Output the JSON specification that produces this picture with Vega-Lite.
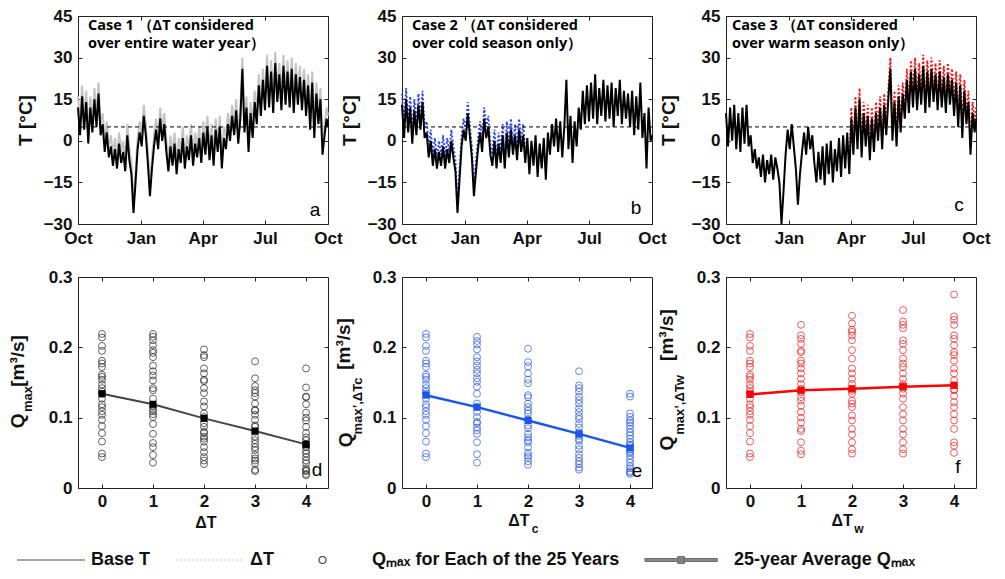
{
"$schema":"https://vega.github.io/schema/vega-lite/v6.json",
"background":"white",
"padding":{"left":8,"top":6,"right":10,"bottom":10},
"config":{
 "font":"Liberation Sans",
 "view":{"stroke":"#222","strokeWidth":1},
 "axis":{"grid":false,"domain":false,"tickSize":-4,"tickColor":"#222","tickWidth":1,"labelFont":"Liberation Sans","labelFontSize":17,"labelFontWeight":"bold","labelColor":"#111","titleFont":"Liberation Sans","titleFontSize":19,"titleFontWeight":"bold","titleColor":"#111","labelPadding":10,"labelFlush":false}
},
"datasets":{
"temp":[
{"day":0,"a":12,"b":13,"c":10,"ag":16,"bb":17},
{"day":3,"a":2,"b":1,"c":-2,"ag":6,"bb":5},
{"day":6,"a":16,"b":15,"c":12,"ag":20,"bb":19},
{"day":9,"a":4,"b":3,"c":0,"ag":8,"bb":7},
{"day":12,"a":14,"b":12,"c":13,"ag":18,"bb":16},
{"day":15,"a":-1,"b":-1,"c":-3,"ag":3,"bb":3},
{"day":18,"a":12,"b":11,"c":10,"ag":16,"bb":15},
{"day":21,"a":3,"b":2,"c":-4,"ag":7,"bb":6},
{"day":24,"a":15,"b":13,"c":12,"ag":19,"bb":17},
{"day":27,"a":5,"b":4,"c":-1,"ag":9,"bb":8},
{"day":30,"a":17,"b":14,"c":13,"ag":21,"bb":18},
{"day":33,"a":2,"b":1,"c":-2,"ag":6,"bb":5},
{"day":36,"a":6,"b":3,"c":2,"ag":10,"bb":7},
{"day":39,"a":-4,"b":-6,"c":-8,"ag":0,"bb":-2},
{"day":42,"a":3,"b":0,"c":-3,"ag":7,"bb":4},
{"day":45,"a":-6,"b":-9,"c":-10,"ag":-2,"bb":-5},
{"day":48,"a":-2,"b":-3,"c":-6,"ag":2,"bb":1},
{"day":51,"a":-9,"b":-10,"c":-13,"ag":-5,"bb":-6},
{"day":54,"a":-3,"b":-4,"c":-5,"ag":1,"bb":0},
{"day":57,"a":-10,"b":-9,"c":-15,"ag":-6,"bb":-5},
{"day":60,"a":-1,"b":-2,"c":-7,"ag":3,"bb":2},
{"day":63,"a":-8,"b":-10,"c":-12,"ag":-4,"bb":-6},
{"day":66,"a":-4,"b":-3,"c":-5,"ag":0,"bb":1},
{"day":69,"a":-11,"b":-8,"c":-14,"ag":-7,"bb":-4},
{"day":72,"a":2,"b":0,"c":-6,"ag":6,"bb":4},
{"day":75,"a":-7,"b":-6,"c":-10,"ag":-3,"bb":-2},
{"day":78,"a":-12,"b":-11,"c":-15,"ag":-8,"bb":-7},
{"day":81,"a":-26,"b":-26,"c":-30,"ag":-22,"bb":-22},
{"day":84,"a":-15,"b":-14,"c":-18,"ag":-11,"bb":-10},
{"day":87,"a":-3,"b":-2,"c":-5,"ag":1,"bb":2},
{"day":90,"a":3,"b":4,"c":4,"ag":7,"bb":8},
{"day":93,"a":-2,"b":0,"c":-3,"ag":2,"bb":4},
{"day":96,"a":9,"b":10,"c":6,"ag":13,"bb":14},
{"day":99,"a":2,"b":2,"c":-2,"ag":6,"bb":6},
{"day":102,"a":-8,"b":-6,"c":-10,"ag":-4,"bb":-2},
{"day":105,"a":-20,"b":-20,"c":-23,"ag":-16,"bb":-16},
{"day":108,"a":-10,"b":-11,"c":-12,"ag":-6,"bb":-7},
{"day":111,"a":-2,"b":-3,"c":-4,"ag":2,"bb":1},
{"day":114,"a":4,"b":3,"c":3,"ag":8,"bb":7},
{"day":117,"a":-3,"b":-4,"c":-5,"ag":1,"bb":0},
{"day":120,"a":8,"b":8,"c":5,"ag":12,"bb":12},
{"day":123,"a":0,"b":1,"c":-3,"ag":4,"bb":5},
{"day":126,"a":6,"b":5,"c":2,"ag":10,"bb":9},
{"day":129,"a":-4,"b":-5,"c":-8,"ag":0,"bb":-1},
{"day":132,"a":-11,"b":-9,"c":-15,"ag":-7,"bb":-5},
{"day":135,"a":-2,"b":0,"c":-4,"ag":2,"bb":4},
{"day":138,"a":-9,"b":-10,"c":-14,"ag":-5,"bb":-6},
{"day":141,"a":-1,"b":-1,"c":-2,"ag":3,"bb":3},
{"day":144,"a":-12,"b":-8,"c":-16,"ag":-8,"bb":-4},
{"day":147,"a":-3,"b":2,"c":-1,"ag":1,"bb":6},
{"day":150,"a":-8,"b":-10,"c":-12,"ag":-4,"bb":-6},
{"day":153,"a":1,"b":3,"c":0,"ag":5,"bb":7},
{"day":156,"a":-10,"b":-6,"c":-15,"ag":-6,"bb":-2},
{"day":159,"a":-2,"b":4,"c":-3,"ag":2,"bb":8},
{"day":162,"a":-7,"b":-5,"c":-11,"ag":-3,"bb":-1},
{"day":165,"a":2,"b":2,"c":1,"ag":6,"bb":6},
{"day":168,"a":-9,"b":-7,"c":-13,"ag":-5,"bb":-3},
{"day":171,"a":-1,"b":4,"c":2,"ag":3,"bb":8},
{"day":174,"a":-6,"b":-4,"c":-10,"ag":-2,"bb":0},
{"day":177,"a":1,"b":2,"c":3,"ag":5,"bb":6},
{"day":180,"a":-8,"b":-8,"c":-12,"ag":-4,"bb":-4,"cr":-8},
{"day":183,"a":3,"b":1,"c":8,"ag":7,"cr":12},
{"day":186,"a":-5,"b":-12,"c":-5,"ag":-1,"cr":-1},
{"day":189,"a":5,"b":0,"c":12,"ag":9,"cr":16},
{"day":192,"a":-7,"b":-9,"c":-3,"ag":-3,"cr":1},
{"day":195,"a":2,"b":2,"c":15,"ag":6,"cr":19},
{"day":198,"a":-9,"b":-13,"c":-6,"ag":-5,"cr":-2},
{"day":201,"a":4,"b":-1,"c":10,"ag":8,"cr":14},
{"day":204,"a":-4,"b":-10,"c":-2,"ag":0,"cr":2},
{"day":207,"a":5,"b":1,"c":9,"ag":9,"cr":13},
{"day":210,"a":-10,"b":-14,"c":-7,"ag":-6,"cr":-3},
{"day":213,"a":1,"b":3,"c":8,"ag":5,"cr":12},
{"day":216,"a":-3,"b":-5,"c":-4,"ag":1,"cr":0},
{"day":219,"a":6,"b":6,"c":10,"ag":10,"cr":14},
{"day":222,"a":0,"b":-2,"c":0,"ag":4,"cr":4},
{"day":225,"a":9,"b":8,"c":12,"ag":13,"cr":16},
{"day":228,"a":2,"b":-4,"c":-3,"ag":6,"cr":1},
{"day":231,"a":11,"b":7,"c":13,"ag":15,"cr":17},
{"day":234,"a":-1,"b":-6,"c":2,"ag":3,"cr":6},
{"day":237,"a":8,"b":5,"c":15,"ag":12,"cr":19},
{"day":240,"a":26,"b":22,"c":26,"ag":30,"cr":30},
{"day":243,"a":3,"b":-3,"c":0,"ag":7,"cr":4},
{"day":246,"a":12,"b":9,"c":14,"ag":16,"cr":18},
{"day":249,"a":-4,"b":-8,"c":-2,"ag":0,"cr":2},
{"day":252,"a":10,"b":7,"c":16,"ag":14,"cr":20},
{"day":255,"a":1,"b":-2,"c":3,"ag":5,"cr":7},
{"day":258,"a":14,"b":12,"c":17,"ag":18,"cr":21},
{"day":261,"a":6,"b":4,"c":8,"ag":10,"cr":12},
{"day":264,"a":20,"b":18,"c":22,"ag":24,"cr":26},
{"day":267,"a":9,"b":6,"c":10,"ag":13,"cr":14},
{"day":270,"a":22,"b":20,"c":25,"ag":26,"cr":29},
{"day":273,"a":11,"b":7,"c":12,"ag":15,"cr":16},
{"day":276,"a":27,"b":21,"c":26,"ag":31,"cr":30},
{"day":279,"a":12,"b":8,"c":11,"ag":16,"cr":15},
{"day":282,"a":25,"b":24,"c":24,"ag":29,"cr":28},
{"day":285,"a":10,"b":6,"c":13,"ag":14,"cr":17},
{"day":288,"a":28,"b":19,"c":27,"ag":32,"cr":31},
{"day":291,"a":14,"b":9,"c":10,"ag":18,"cr":14},
{"day":294,"a":24,"b":22,"c":25,"ag":28,"cr":29},
{"day":297,"a":11,"b":7,"c":12,"ag":15,"cr":16},
{"day":300,"a":27,"b":20,"c":26,"ag":31,"cr":30},
{"day":303,"a":13,"b":8,"c":14,"ag":17,"cr":18},
{"day":306,"a":25,"b":21,"c":24,"ag":29,"cr":28},
{"day":309,"a":12,"b":5,"c":11,"ag":16,"cr":15},
{"day":312,"a":26,"b":19,"c":25,"ag":30,"cr":29},
{"day":315,"a":10,"b":9,"c":12,"ag":14,"cr":16},
{"day":318,"a":24,"b":22,"c":23,"ag":28,"cr":27},
{"day":321,"a":13,"b":6,"c":10,"ag":17,"cr":14},
{"day":324,"a":23,"b":18,"c":24,"ag":27,"cr":28},
{"day":327,"a":11,"b":8,"c":13,"ag":15,"cr":17},
{"day":330,"a":22,"b":17,"c":22,"ag":26,"cr":26},
{"day":333,"a":9,"b":5,"c":9,"ag":13,"cr":13},
{"day":336,"a":20,"b":18,"c":21,"ag":24,"cr":25},
{"day":339,"a":4,"b":2,"c":5,"ag":8,"cr":9},
{"day":342,"a":21,"b":16,"c":20,"ag":25,"cr":24},
{"day":345,"a":1,"b":4,"c":1,"ag":5,"cr":5},
{"day":348,"a":17,"b":21,"c":18,"ag":21,"cr":22},
{"day":351,"a":6,"b":1,"c":6,"ag":10,"cr":10},
{"day":354,"a":15,"b":10,"c":14,"ag":19,"cr":18},
{"day":357,"a":-5,"b":-10,"c":-5,"ag":-1,"cr":-1},
{"day":360,"a":2,"b":12,"c":10,"ag":6,"cr":14},
{"day":363,"a":8,"b":0,"c":3,"ag":12,"cr":7},
{"day":365,"a":5,"b":2,"c":8,"ag":9,"cr":12}
],
"qd":[
{"dt":0,"q":0.219},{"dt":0,"q":0.214},{"dt":0,"q":0.202},{"dt":0,"q":0.195},{"dt":0,"q":0.181},{"dt":0,"q":0.177},{"dt":0,"q":0.172},{"dt":0,"q":0.161},{"dt":0,"q":0.158},{"dt":0,"q":0.154},{"dt":0,"q":0.147},{"dt":0,"q":0.142},{"dt":0,"q":0.137},{"dt":0,"q":0.134},{"dt":0,"q":0.127},{"dt":0,"q":0.119},{"dt":0,"q":0.115},{"dt":0,"q":0.109},{"dt":0,"q":0.104},{"dt":0,"q":0.097},{"dt":0,"q":0.088},{"dt":0,"q":0.078},{"dt":0,"q":0.066},{"dt":0,"q":0.049},{"dt":0,"q":0.044},
{"dt":1,"q":0.219},{"dt":1,"q":0.215},{"dt":1,"q":0.210},{"dt":1,"q":0.203},{"dt":1,"q":0.196},{"dt":1,"q":0.192},{"dt":1,"q":0.186},{"dt":1,"q":0.174},{"dt":1,"q":0.166},{"dt":1,"q":0.160},{"dt":1,"q":0.153},{"dt":1,"q":0.142},{"dt":1,"q":0.139},{"dt":1,"q":0.127},{"dt":1,"q":0.116},{"dt":1,"q":0.112},{"dt":1,"q":0.109},{"dt":1,"q":0.105},{"dt":1,"q":0.101},{"dt":1,"q":0.091},{"dt":1,"q":0.077},{"dt":1,"q":0.064},{"dt":1,"q":0.058},{"dt":1,"q":0.047},{"dt":1,"q":0.036},
{"dt":2,"q":0.197},{"dt":2,"q":0.189},{"dt":2,"q":0.186},{"dt":2,"q":0.170},{"dt":2,"q":0.163},{"dt":2,"q":0.154},{"dt":2,"q":0.152},{"dt":2,"q":0.142},{"dt":2,"q":0.135},{"dt":2,"q":0.123},{"dt":2,"q":0.116},{"dt":2,"q":0.106},{"dt":2,"q":0.101},{"dt":2,"q":0.092},{"dt":2,"q":0.087},{"dt":2,"q":0.080},{"dt":2,"q":0.078},{"dt":2,"q":0.073},{"dt":2,"q":0.070},{"dt":2,"q":0.066},{"dt":2,"q":0.058},{"dt":2,"q":0.051},{"dt":2,"q":0.044},{"dt":2,"q":0.039},{"dt":2,"q":0.034},
{"dt":3,"q":0.180},{"dt":3,"q":0.156},{"dt":3,"q":0.145},{"dt":3,"q":0.139},{"dt":3,"q":0.135},{"dt":3,"q":0.130},{"dt":3,"q":0.120},{"dt":3,"q":0.111},{"dt":3,"q":0.110},{"dt":3,"q":0.104},{"dt":3,"q":0.097},{"dt":3,"q":0.089},{"dt":3,"q":0.087},{"dt":3,"q":0.080},{"dt":3,"q":0.073},{"dt":3,"q":0.068},{"dt":3,"q":0.063},{"dt":3,"q":0.058},{"dt":3,"q":0.054},{"dt":3,"q":0.047},{"dt":3,"q":0.042},{"dt":3,"q":0.039},{"dt":3,"q":0.035},{"dt":3,"q":0.026},{"dt":3,"q":0.024},
{"dt":4,"q":0.170},{"dt":4,"q":0.143},{"dt":4,"q":0.130},{"dt":4,"q":0.129},{"dt":4,"q":0.119},{"dt":4,"q":0.107},{"dt":4,"q":0.100},{"dt":4,"q":0.096},{"dt":4,"q":0.087},{"dt":4,"q":0.078},{"dt":4,"q":0.072},{"dt":4,"q":0.068},{"dt":4,"q":0.063},{"dt":4,"q":0.060},{"dt":4,"q":0.058},{"dt":4,"q":0.053},{"dt":4,"q":0.049},{"dt":4,"q":0.044},{"dt":4,"q":0.039},{"dt":4,"q":0.035},{"dt":4,"q":0.028},{"dt":4,"q":0.025},{"dt":4,"q":0.024},{"dt":4,"q":0.020},{"dt":4,"q":0.018}
],
"qe":[
{"dt":0,"q":0.219},{"dt":0,"q":0.214},{"dt":0,"q":0.202},{"dt":0,"q":0.195},{"dt":0,"q":0.181},{"dt":0,"q":0.177},{"dt":0,"q":0.172},{"dt":0,"q":0.161},{"dt":0,"q":0.158},{"dt":0,"q":0.154},{"dt":0,"q":0.147},{"dt":0,"q":0.142},{"dt":0,"q":0.137},{"dt":0,"q":0.134},{"dt":0,"q":0.127},{"dt":0,"q":0.119},{"dt":0,"q":0.115},{"dt":0,"q":0.109},{"dt":0,"q":0.104},{"dt":0,"q":0.097},{"dt":0,"q":0.088},{"dt":0,"q":0.078},{"dt":0,"q":0.066},{"dt":0,"q":0.049},{"dt":0,"q":0.044},
{"dt":1,"q":0.215},{"dt":1,"q":0.209},{"dt":1,"q":0.204},{"dt":1,"q":0.197},{"dt":1,"q":0.186},{"dt":1,"q":0.180},{"dt":1,"q":0.174},{"dt":1,"q":0.168},{"dt":1,"q":0.163},{"dt":1,"q":0.156},{"dt":1,"q":0.151},{"dt":1,"q":0.144},{"dt":1,"q":0.134},{"dt":1,"q":0.120},{"dt":1,"q":0.115},{"dt":1,"q":0.108},{"dt":1,"q":0.101},{"dt":1,"q":0.094},{"dt":1,"q":0.092},{"dt":1,"q":0.086},{"dt":1,"q":0.082},{"dt":1,"q":0.077},{"dt":1,"q":0.065},{"dt":1,"q":0.048},{"dt":1,"q":0.036},
{"dt":2,"q":0.198},{"dt":2,"q":0.179},{"dt":2,"q":0.173},{"dt":2,"q":0.163},{"dt":2,"q":0.154},{"dt":2,"q":0.149},{"dt":2,"q":0.132},{"dt":2,"q":0.129},{"dt":2,"q":0.120},{"dt":2,"q":0.115},{"dt":2,"q":0.110},{"dt":2,"q":0.106},{"dt":2,"q":0.098},{"dt":2,"q":0.089},{"dt":2,"q":0.085},{"dt":2,"q":0.077},{"dt":2,"q":0.072},{"dt":2,"q":0.068},{"dt":2,"q":0.065},{"dt":2,"q":0.058},{"dt":2,"q":0.050},{"dt":2,"q":0.046},{"dt":2,"q":0.043},{"dt":2,"q":0.038},{"dt":2,"q":0.033},
{"dt":3,"q":0.166},{"dt":3,"q":0.146},{"dt":3,"q":0.142},{"dt":3,"q":0.137},{"dt":3,"q":0.130},{"dt":3,"q":0.125},{"dt":3,"q":0.120},{"dt":3,"q":0.113},{"dt":3,"q":0.108},{"dt":3,"q":0.102},{"dt":3,"q":0.098},{"dt":3,"q":0.091},{"dt":3,"q":0.086},{"dt":3,"q":0.079},{"dt":3,"q":0.074},{"dt":3,"q":0.070},{"dt":3,"q":0.067},{"dt":3,"q":0.060},{"dt":3,"q":0.055},{"dt":3,"q":0.048},{"dt":3,"q":0.043},{"dt":3,"q":0.038},{"dt":3,"q":0.034},{"dt":3,"q":0.029},{"dt":3,"q":0.026},
{"dt":4,"q":0.134},{"dt":4,"q":0.130},{"dt":4,"q":0.106},{"dt":4,"q":0.101},{"dt":4,"q":0.096},{"dt":4,"q":0.093},{"dt":4,"q":0.089},{"dt":4,"q":0.084},{"dt":4,"q":0.079},{"dt":4,"q":0.075},{"dt":4,"q":0.070},{"dt":4,"q":0.065},{"dt":4,"q":0.062},{"dt":4,"q":0.060},{"dt":4,"q":0.055},{"dt":4,"q":0.052},{"dt":4,"q":0.050},{"dt":4,"q":0.046},{"dt":4,"q":0.041},{"dt":4,"q":0.036},{"dt":4,"q":0.031},{"dt":4,"q":0.028},{"dt":4,"q":0.024},{"dt":4,"q":0.022},{"dt":4,"q":0.020}
],
"qf":[
{"dt":0,"q":0.219},{"dt":0,"q":0.214},{"dt":0,"q":0.202},{"dt":0,"q":0.195},{"dt":0,"q":0.181},{"dt":0,"q":0.177},{"dt":0,"q":0.172},{"dt":0,"q":0.161},{"dt":0,"q":0.158},{"dt":0,"q":0.154},{"dt":0,"q":0.147},{"dt":0,"q":0.142},{"dt":0,"q":0.137},{"dt":0,"q":0.134},{"dt":0,"q":0.127},{"dt":0,"q":0.119},{"dt":0,"q":0.115},{"dt":0,"q":0.109},{"dt":0,"q":0.104},{"dt":0,"q":0.097},{"dt":0,"q":0.088},{"dt":0,"q":0.078},{"dt":0,"q":0.066},{"dt":0,"q":0.049},{"dt":0,"q":0.044},
{"dt":1,"q":0.232},{"dt":1,"q":0.217},{"dt":1,"q":0.212},{"dt":1,"q":0.205},{"dt":1,"q":0.195},{"dt":1,"q":0.193},{"dt":1,"q":0.181},{"dt":1,"q":0.177},{"dt":1,"q":0.170},{"dt":1,"q":0.163},{"dt":1,"q":0.155},{"dt":1,"q":0.148},{"dt":1,"q":0.141},{"dt":1,"q":0.136},{"dt":1,"q":0.129},{"dt":1,"q":0.124},{"dt":1,"q":0.117},{"dt":1,"q":0.108},{"dt":1,"q":0.100},{"dt":1,"q":0.093},{"dt":1,"q":0.084},{"dt":1,"q":0.081},{"dt":1,"q":0.065},{"dt":1,"q":0.053},{"dt":1,"q":0.048},
{"dt":2,"q":0.245},{"dt":2,"q":0.234},{"dt":2,"q":0.225},{"dt":2,"q":0.222},{"dt":2,"q":0.217},{"dt":2,"q":0.210},{"dt":2,"q":0.196},{"dt":2,"q":0.184},{"dt":2,"q":0.170},{"dt":2,"q":0.163},{"dt":2,"q":0.155},{"dt":2,"q":0.148},{"dt":2,"q":0.141},{"dt":2,"q":0.138},{"dt":2,"q":0.134},{"dt":2,"q":0.124},{"dt":2,"q":0.120},{"dt":2,"q":0.115},{"dt":2,"q":0.103},{"dt":2,"q":0.096},{"dt":2,"q":0.084},{"dt":2,"q":0.076},{"dt":2,"q":0.065},{"dt":2,"q":0.055},{"dt":2,"q":0.049},
{"dt":3,"q":0.253},{"dt":3,"q":0.237},{"dt":3,"q":0.232},{"dt":3,"q":0.227},{"dt":3,"q":0.210},{"dt":3,"q":0.205},{"dt":3,"q":0.196},{"dt":3,"q":0.184},{"dt":3,"q":0.177},{"dt":3,"q":0.172},{"dt":3,"q":0.163},{"dt":3,"q":0.155},{"dt":3,"q":0.148},{"dt":3,"q":0.145},{"dt":3,"q":0.141},{"dt":3,"q":0.134},{"dt":3,"q":0.127},{"dt":3,"q":0.115},{"dt":3,"q":0.105},{"dt":3,"q":0.096},{"dt":3,"q":0.084},{"dt":3,"q":0.076},{"dt":3,"q":0.065},{"dt":3,"q":0.055},{"dt":3,"q":0.049},
{"dt":4,"q":0.275},{"dt":4,"q":0.244},{"dt":4,"q":0.239},{"dt":4,"q":0.232},{"dt":4,"q":0.217},{"dt":4,"q":0.212},{"dt":4,"q":0.203},{"dt":4,"q":0.193},{"dt":4,"q":0.189},{"dt":4,"q":0.181},{"dt":4,"q":0.170},{"dt":4,"q":0.163},{"dt":4,"q":0.153},{"dt":4,"q":0.146},{"dt":4,"q":0.140},{"dt":4,"q":0.139},{"dt":4,"q":0.131},{"dt":4,"q":0.122},{"dt":4,"q":0.115},{"dt":4,"q":0.105},{"dt":4,"q":0.096},{"dt":4,"q":0.084},{"dt":4,"q":0.065},{"dt":4,"q":0.060},{"dt":4,"q":0.050}
],
"md":[{"dt":0,"q":0.134},{"dt":1,"q":0.119},{"dt":2,"q":0.099},{"dt":3,"q":0.081},{"dt":4,"q":0.062}],
"me":[{"dt":0,"q":0.132},{"dt":1,"q":0.115},{"dt":2,"q":0.096},{"dt":3,"q":0.077},{"dt":4,"q":0.057}],
"mf":[{"dt":0,"q":0.133},{"dt":1,"q":0.139},{"dt":2,"q":0.141},{"dt":3,"q":0.144},{"dt":4,"q":0.146}]
},
"columns":3,
"bounds":"flush",
"align":"each",
"spacing":{"row":53,"column":74},
"concat":[
{
 "width":250,"height":208,
 "layer":[
  {"data":{"name":"temp"},"mark":{"type":"line","color":"#c4c4c4","strokeWidth":2},
   "encoding":{
    "x":{"field":"day","type":"quantitative","scale":{"domain":[0,365],"nice":false,"zero":false},"axis":{"orient":"bottom","values":[0,92,182,273,365],"labelExpr":"datum.value == 0 || datum.value == 365 ? 'Oct' : datum.value == 92 ? 'Jan' : datum.value == 182 ? 'Apr' : 'Jul'","title":null}},
    "y":{"field":"ag","type":"quantitative","scale":{"domain":[-30,45],"nice":false,"zero":false},"axis":{"orient":"left","values":[-30,-15,0,15,30,45],"title":"T [°C]","titlePadding":8}}}},
  {"data":{"name":"temp"},"mark":{"type":"line","color":"#000","strokeWidth":2},
   "encoding":{
    "x":{"field":"day","type":"quantitative","scale":{"domain":[0,365],"nice":false,"zero":false},"axis":{"orient":"top","values":[0,92,182,273,365],"labels":false,"title":null}},
    "y":{"field":"a","type":"quantitative","scale":{"domain":[-30,45],"nice":false,"zero":false},"axis":{"orient":"right","values":[-30,-15,0,15,30,45],"labels":false,"title":null}}}},
  {"data":{"values":[{}]},"mark":{"type":"rule","color":"#000","strokeWidth":1,"strokeDash":[4,3]},"encoding":{"y":{"datum":5,"axis":null}}},
  {"data":{"values":[{}]},"mark":{"type":"text","align":"left","baseline":"top","font":"Open Sans","fontSize":14.5,"fontWeight":"bold","lineHeight":18},
   "encoding":{"x":{"datum":14.6,"axis":null},"y":{"datum":44,"axis":null},"text":{"value":["Case 1 （ΔT considered","over entire water year）"]}}},
  {"data":{"values":[{}]},"mark":{"type":"text","fontSize":19},"encoding":{"x":{"datum":346,"axis":null},"y":{"datum":-25,"axis":null},"text":{"value":"a"}}}
 ],
 "resolve":{"axis":{"x":"independent","y":"independent"}}
},
{
 "width":250,"height":208,
 "layer":[
  {"data":{"name":"temp"},"mark":{"type":"line","color":"#1f3cff","strokeWidth":1.8,"strokeDash":[2,2]},
   "encoding":{
    "x":{"field":"day","type":"quantitative","scale":{"domain":[0,365],"nice":false,"zero":false},"axis":{"orient":"bottom","values":[0,92,182,273,365],"labelExpr":"datum.value == 0 || datum.value == 365 ? 'Oct' : datum.value == 92 ? 'Jan' : datum.value == 182 ? 'Apr' : 'Jul'","title":null}},
    "y":{"field":"bb","type":"quantitative","scale":{"domain":[-30,45],"nice":false,"zero":false},"axis":{"orient":"left","values":[-30,-15,0,15,30,45],"title":"T [°C]","titlePadding":8}}}},
  {"data":{"name":"temp"},"mark":{"type":"line","color":"#000","strokeWidth":2},
   "encoding":{
    "x":{"field":"day","type":"quantitative","scale":{"domain":[0,365],"nice":false,"zero":false},"axis":{"orient":"top","values":[0,92,182,273,365],"labels":false,"title":null}},
    "y":{"field":"b","type":"quantitative","scale":{"domain":[-30,45],"nice":false,"zero":false},"axis":{"orient":"right","values":[-30,-15,0,15,30,45],"labels":false,"title":null}}}},
  {"data":{"values":[{}]},"mark":{"type":"rule","color":"#000","strokeWidth":1,"strokeDash":[4,3]},"encoding":{"y":{"datum":5,"axis":null}}},
  {"data":{"values":[{}]},"mark":{"type":"text","align":"left","baseline":"top","font":"Open Sans","fontSize":14.5,"fontWeight":"bold","lineHeight":18},
   "encoding":{"x":{"datum":14.6,"axis":null},"y":{"datum":44,"axis":null},"text":{"value":["Case 2 （ΔT considered","over cold season only）"]}}},
  {"data":{"values":[{}]},"mark":{"type":"text","fontSize":19},"encoding":{"x":{"datum":341.6,"axis":null},"y":{"datum":-24.2,"axis":null},"text":{"value":"b"}}}
 ],
 "resolve":{"axis":{"x":"independent","y":"independent"}}
},
{
 "width":250,"height":208,
 "layer":[
  {"data":{"name":"temp"},"mark":{"type":"line","color":"#ff1010","strokeWidth":1.8,"strokeDash":[2,2]},
   "encoding":{
    "x":{"field":"day","type":"quantitative","scale":{"domain":[0,365],"nice":false,"zero":false},"axis":{"orient":"bottom","values":[0,92,182,273,365],"labelExpr":"datum.value == 0 || datum.value == 365 ? 'Oct' : datum.value == 92 ? 'Jan' : datum.value == 182 ? 'Apr' : 'Jul'","title":null}},
    "y":{"field":"cr","type":"quantitative","scale":{"domain":[-30,45],"nice":false,"zero":false},"axis":{"orient":"left","values":[-30,-15,0,15,30,45],"title":"T [°C]","titlePadding":13}}}},
  {"data":{"name":"temp"},"mark":{"type":"line","color":"#000","strokeWidth":2},
   "encoding":{
    "x":{"field":"day","type":"quantitative","scale":{"domain":[0,365],"nice":false,"zero":false},"axis":{"orient":"top","values":[0,92,182,273,365],"labels":false,"title":null}},
    "y":{"field":"c","type":"quantitative","scale":{"domain":[-30,45],"nice":false,"zero":false},"axis":{"orient":"right","values":[-30,-15,0,15,30,45],"labels":false,"title":null}}}},
  {"data":{"values":[{}]},"mark":{"type":"rule","color":"#000","strokeWidth":1,"strokeDash":[4,3]},"encoding":{"y":{"datum":5,"axis":null}}},
  {"data":{"values":[{}]},"mark":{"type":"text","align":"left","baseline":"top","font":"Open Sans","fontSize":14.5,"fontWeight":"bold","lineHeight":18},
   "encoding":{"x":{"datum":8.8,"axis":null},"y":{"datum":44,"axis":null},"text":{"value":["Case 3 （ΔT considered","over warm season only）"]}}},
  {"data":{"values":[{}]},"mark":{"type":"text","fontSize":19},"encoding":{"x":{"datum":340,"axis":null},"y":{"datum":-23.2,"axis":null},"text":{"value":"c"}}}
 ],
 "resolve":{"axis":{"x":"independent","y":"independent"}}
},
{
 "width":250,"height":211,
 "layer":[
  {"data":{"name":"qd"},"mark":{"type":"point","shape":"circle","filled":false,"size":48,"color":"#222","strokeWidth":1},
   "encoding":{
    "x":{"field":"dt","type":"quantitative","scale":{"domain":[-0.47,4.43],"nice":false,"zero":false},"axis":{"orient":"bottom","values":[0,1,2,3,4],"title":null,"labelPadding":9}},
    "y":{"field":"q","type":"quantitative","scale":{"domain":[0,0.3],"nice":false,"zero":false},"axis":{"orient":"left","values":[0,0.1,0.2,0.3],"format":".1~f","title":null}}}},
  {"data":{"name":"md"},"mark":{"type":"line","color":"#444","strokeWidth":2,"point":{"filled":true,"shape":"square","size":50,"color":"#000"}},
   "encoding":{
    "x":{"field":"dt","type":"quantitative","scale":{"domain":[-0.47,4.43],"nice":false,"zero":false},"axis":{"orient":"top","values":[0,1,2,3,4],"labels":false,"title":null}},
    "y":{"field":"q","type":"quantitative","scale":{"domain":[0,0.3],"nice":false,"zero":false},"axis":{"orient":"right","values":[0.1,0.2],"labels":false,"title":null}}}},
  {"data":{"values":[{}]},"mark":{"type":"text","angle":270,"fontSize":19,"fontWeight":"bold","color":"#111"},"encoding":{"x":{"datum":-1.646,"axis":null},"y":{"datum":0.0953,"axis":null},"text":{"value":"Q"}}},
  {"data":{"values":[{}]},"mark":{"type":"text","angle":270,"fontSize":13,"fontWeight":"bold","color":"#111"},"encoding":{"x":{"datum":-1.45,"axis":null},"y":{"datum":0.1265,"axis":null},"text":{"value":"max"}}},
  {"data":{"values":[{}]},"mark":{"type":"text","angle":270,"fontSize":19,"fontWeight":"bold","color":"#111"},"encoding":{"x":{"datum":-1.646,"axis":null},"y":{"datum":0.1806,"axis":null},"text":{"value":"[m³/s]"}}},
  {"data":{"values":[{}]},"mark":{"type":"text","fontSize":16,"fontWeight":"bold","color":"#111"},"encoding":{"x":{"datum":2.039,"axis":null},"y":{"datum":-0.0498,"axis":null},"text":{"value":"ΔT"}}},
  {"data":{"values":[{}]},"mark":{"type":"text","fontSize":19},"encoding":{"x":{"datum":4.214,"axis":null},"y":{"datum":0.0256,"axis":null},"text":{"value":"d"}}}
 ],
 "resolve":{"axis":{"x":"independent","y":"independent"}}
},
{
 "width":250,"height":211,
 "layer":[
  {"data":{"name":"qe"},"mark":{"type":"point","shape":"circle","filled":false,"size":48,"color":"#2255ee","strokeWidth":1},
   "encoding":{
    "x":{"field":"dt","type":"quantitative","scale":{"domain":[-0.47,4.43],"nice":false,"zero":false},"axis":{"orient":"bottom","values":[0,1,2,3,4],"title":null,"labelPadding":9}},
    "y":{"field":"q","type":"quantitative","scale":{"domain":[0,0.3],"nice":false,"zero":false},"axis":{"orient":"left","values":[0,0.1,0.2,0.3],"format":".1~f","title":null}}}},
  {"data":{"name":"me"},"mark":{"type":"line","color":"#1a55ee","strokeWidth":2.5,"point":{"filled":true,"shape":"square","size":50,"color":"#1a55ee"}},
   "encoding":{
    "x":{"field":"dt","type":"quantitative","scale":{"domain":[-0.47,4.43],"nice":false,"zero":false},"axis":{"orient":"top","values":[0,1,2,3,4],"labels":false,"title":null}},
    "y":{"field":"q","type":"quantitative","scale":{"domain":[0,0.3],"nice":false,"zero":false},"axis":{"orient":"right","values":[0.1,0.2],"labels":false,"title":null}}}},
  {"data":{"values":[{}]},"mark":{"type":"text","angle":270,"fontSize":19,"fontWeight":"bold","color":"#111"},"encoding":{"x":{"datum":-1.568,"axis":null},"y":{"datum":0.0683,"axis":null},"text":{"value":"Q"}}},
  {"data":{"values":[{}]},"mark":{"type":"text","angle":270,"fontSize":13,"fontWeight":"bold","color":"#111"},"encoding":{"x":{"datum":-1.332,"axis":null},"y":{"datum":0.1166,"axis":null},"text":{"value":"max’,ΔTc"}}},
  {"data":{"values":[{}]},"mark":{"type":"text","angle":270,"fontSize":19,"fontWeight":"bold","color":"#111"},"encoding":{"x":{"datum":-1.607,"axis":null},"y":{"datum":0.2048,"axis":null},"text":{"value":"[m³/s]"}}},
  {"data":{"values":[{}]},"mark":{"type":"text","fontSize":16,"fontWeight":"bold","color":"#111"},"encoding":{"x":{"datum":1.823,"axis":null},"y":{"datum":-0.0469,"axis":null},"text":{"value":"ΔT"}}},
  {"data":{"values":[{}]},"mark":{"type":"text","fontSize":12,"fontWeight":"bold","color":"#111"},"encoding":{"x":{"datum":2.137,"axis":null},"y":{"datum":-0.0583,"axis":null},"text":{"value":"c"}}},
  {"data":{"values":[{}]},"mark":{"type":"text","fontSize":19},"encoding":{"x":{"datum":4.136,"axis":null},"y":{"datum":0.0242,"axis":null},"text":{"value":"e"}}}
 ],
 "resolve":{"axis":{"x":"independent","y":"independent"}}
},
{
 "width":250,"height":211,
 "layer":[
  {"data":{"name":"qf"},"mark":{"type":"point","shape":"circle","filled":false,"size":48,"color":"#f01818","strokeWidth":1},
   "encoding":{
    "x":{"field":"dt","type":"quantitative","scale":{"domain":[-0.47,4.43],"nice":false,"zero":false},"axis":{"orient":"bottom","values":[0,1,2,3,4],"title":null,"labelPadding":9}},
    "y":{"field":"q","type":"quantitative","scale":{"domain":[0,0.3],"nice":false,"zero":false},"axis":{"orient":"left","values":[0,0.1,0.2,0.3],"format":".1~f","title":null}}}},
  {"data":{"name":"mf"},"mark":{"type":"line","color":"#ff0000","strokeWidth":2.5,"point":{"filled":true,"shape":"square","size":50,"color":"#ff0000"}},
   "encoding":{
    "x":{"field":"dt","type":"quantitative","scale":{"domain":[-0.47,4.43],"nice":false,"zero":false},"axis":{"orient":"top","values":[0,1,2,3,4],"labels":false,"title":null}},
    "y":{"field":"q","type":"quantitative","scale":{"domain":[0,0.3],"nice":false,"zero":false},"axis":{"orient":"right","values":[0.1,0.2],"labels":false,"title":null}}}},
  {"data":{"values":[{}]},"mark":{"type":"text","angle":270,"fontSize":19,"fontWeight":"bold","color":"#111"},"encoding":{"x":{"datum":-1.626,"axis":null},"y":{"datum":0.064,"axis":null},"text":{"value":"Q"}}},
  {"data":{"values":[{}]},"mark":{"type":"text","angle":270,"fontSize":13,"fontWeight":"bold","color":"#111"},"encoding":{"x":{"datum":-1.372,"axis":null},"y":{"datum":0.118,"axis":null},"text":{"value":"max’,ΔTw"}}},
  {"data":{"values":[{}]},"mark":{"type":"text","angle":270,"fontSize":19,"fontWeight":"bold","color":"#111"},"encoding":{"x":{"datum":-1.626,"axis":null},"y":{"datum":0.2175,"axis":null},"text":{"value":"[m³/s]"}}},
  {"data":{"values":[{}]},"mark":{"type":"text","fontSize":16,"fontWeight":"bold","color":"#111"},"encoding":{"x":{"datum":1.804,"axis":null},"y":{"datum":-0.0469,"axis":null},"text":{"value":"ΔT"}}},
  {"data":{"values":[{}]},"mark":{"type":"text","fontSize":12,"fontWeight":"bold","color":"#111"},"encoding":{"x":{"datum":2.137,"axis":null},"y":{"datum":-0.0583,"axis":null},"text":{"value":"w"}}},
  {"data":{"values":[{}]},"mark":{"type":"text","fontSize":19},"encoding":{"x":{"datum":4.077,"axis":null},"y":{"datum":0.0299,"axis":null},"text":{"value":"f"}}}
 ],
 "resolve":{"axis":{"x":"independent","y":"independent"}}
},
{
 "width":250,"height":1,
 "view":{"stroke":null},
 "data":{"values":[{"k":"Base T"},{"k":"ΔT"},{"k":"Qₘₐₓ for Each of the 25 Years"},{"k":"25-year Average Qₘₐₓ"}]},
 "transform":[{"filter":"false"}],
 "mark":{"type":"point","filled":false},
 "encoding":{
  "shape":{"field":"k","type":"nominal","scale":{"domain":["Base T","ΔT","Qₘₐₓ for Each of the 25 Years","25-year Average Qₘₐₓ"],"range":["M-0.97,0H0.97","M-0.97,0H0.97","M-0.17,0A0.1,0.1 0 1,1 -0.37,0A0.1,0.1 0 1,1 -0.17,0","M-1.4,-0.04H0.66V0.04H-1.4ZM-0.47,-0.1H-0.27V0.1H-0.47Z"]},
   "legend":{"orient":"none","legendX":-63,"legendY":508,"direction":"horizontal","columns":4,"title":null,"symbolSize":4900,"symbolStrokeWidth":1.2,"labelFont":"Liberation Sans","labelFontSize":18,"labelFontWeight":"bold","labelColor":"#111","labelOffset":4,"columnPadding":22,"labelLimit":500}},
  "stroke":{"field":"k","type":"nominal","scale":{"domain":["Base T","ΔT","Qₘₐₓ for Each of the 25 Years","25-year Average Qₘₐₓ"],"range":["#000000","#b5b5b5","#000000","#333333"]}},
  "fill":{"field":"k","type":"nominal","scale":{"domain":["Base T","ΔT","Qₘₐₓ for Each of the 25 Years","25-year Average Qₘₐₓ"],"range":["transparent","transparent","transparent","#222222"]}},
  "strokeDash":{"field":"k","type":"nominal","scale":{"domain":["Base T","ΔT","Qₘₐₓ for Each of the 25 Years","25-year Average Qₘₐₓ"],"range":[[1,0],[2,2],[1,0],[1,0]]}}
 }
}
]
}
